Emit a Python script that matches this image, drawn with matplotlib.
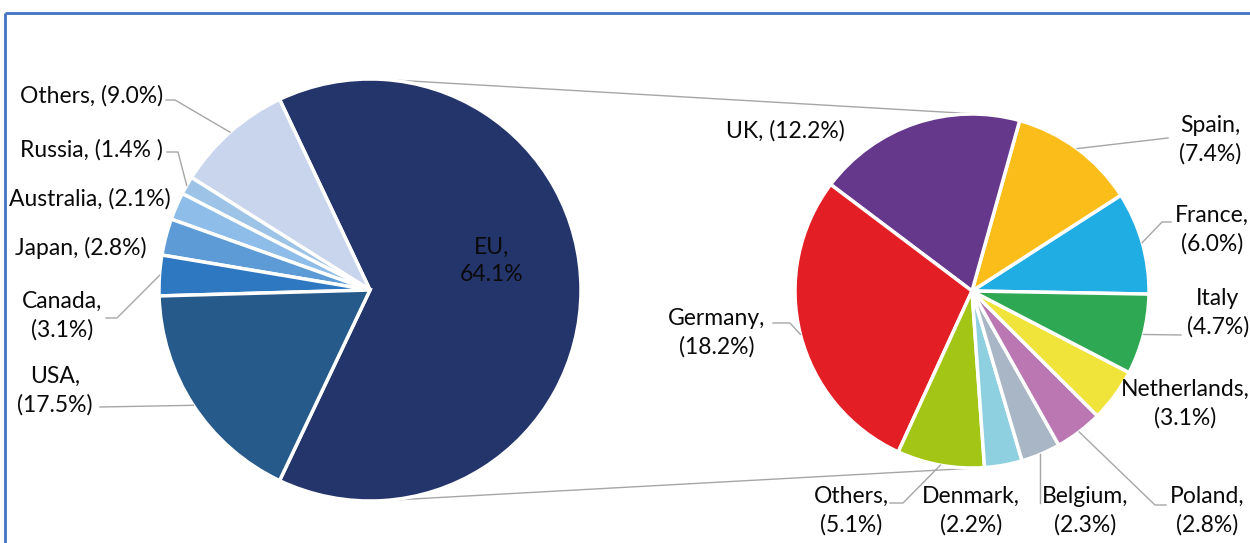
import numpy as np
import matplotlib
matplotlib.use("Agg")
import matplotlib.pyplot as plt

W, H = 1250, 543

# ---- data ----
left_labels = ['EU', 'Others', 'Russia', 'Australia', 'Japan', 'Canada', 'USA']
left_values = [64.1, 9.0, 1.4, 2.1, 2.8, 3.1, 17.5]
left_colors = ['#24356B', '#C9D5EC', '#9DC3E6', '#8DBDE8', '#5C9BD5', '#2E78C2', '#265A8A']

right_labels = ['France', 'Spain', 'UK', 'Germany', 'Others', 'Denmark',
                'Belgium', 'Poland', 'Netherlands', 'Italy']
right_values = [6.0, 7.4, 12.2, 18.2, 5.1, 2.2, 2.3, 2.8, 3.1, 4.7]
right_colors = ['#1FADE3', '#FBBD19', '#66388C', '#E31E24', '#A3C515', '#8ECFE0',
                '#A9B6C6', '#BB77B1', '#F0E43A', '#2EA852']

plt.rcParams['font.family'] = ['Lato', 'DejaVu Sans']
FS = 16.5
TC = '#0A0A0A'

fig = plt.figure(figsize=(W / 100, H / 100), dpi=100)
ax = fig.add_axes([0, 0, 1, 1])

def up(y):
    return H - y

# geometry (image pixel coords)
c1 = (370, 290); r1 = 211
c2 = (972, 291); r2 = 177

start1 = -left_values[0] * 3.6 / 2
w1, _ = ax.pie(left_values, colors=left_colors, startangle=start1, counterclock=True,
               center=(c1[0], up(c1[1])), radius=r1,
               wedgeprops=dict(edgecolor='white', linewidth=2.5))
w2, _ = ax.pie(right_values, colors=right_colors, startangle=-1.0, counterclock=True,
               center=(c2[0], up(c2[1])), radius=r2,
               wedgeprops=dict(edgecolor='white', linewidth=2.5))

# connector lines (external tangents)
d = c2[0] - c1[0]
cth = (r1 - r2) / d
th = np.arccos(cth)
for s in (1, -1):
    p1 = (c1[0] + r1 * np.cos(th), up(c1[1]) + s * r1 * np.sin(th))
    p2 = (c2[0] + r2 * np.cos(th), up(c2[1]) + s * r2 * np.sin(th))
    ax.plot([p1[0], p2[0]], [p1[1], p2[1]], color='#A6A6A6', lw=1.0, zorder=0)

def mid_point(w, center, r):
    a = np.deg2rad((w.theta1 + w.theta2) / 2)
    return (center[0] + r * np.cos(a), up(center[1]) + r * np.sin(a))

def fmt(name, v, sep):
    return f"{name},{sep}({v:.1f}%)"

LC = '#A6A6A6'

# left labels: text center (img), separator, leader points (img) or None
left_layout = {
    'Others': ((92, 96), ' ', [(166, 100), (175, 100)]),
    'Russia': ((91, 150), ' ', [(167, 152), (178, 152)]),
    'Australia': ((90, 199), ' ', None),
    'Japan': ((81, 248), ' ', None),
    'Canada': ((62, 316), '\n', [(106, 318), (117, 318)]),
    'USA': ((55, 391), '\n', [(100, 407)]),
}
for i, name in enumerate(left_labels):
    v = left_values[i]
    if name == 'EU':
        ax.text(492, up(261), f"EU,\n{v:.1f}%", ha='center', va='center', fontsize=FS,
                color=TC, linespacing=1.4)
        continue
    pos, sep, lead = left_layout[name]
    txt = fmt(name, v, sep)
    if name == 'Russia':
        txt = txt.replace('%)', '% )')
    ax.text(pos[0], up(pos[1]), txt, ha='center', va='center', fontsize=FS,
            color=TC, linespacing=1.4)
    if lead:
        ep = mid_point(w1[i], c1, r1)
        xs = [p[0] for p in lead] + [ep[0]]
        ys = [up(p[1]) for p in lead] + [ep[1]]
        ax.plot(xs, ys, color=LC, lw=1.0)

right_layout = {
    'UK': ((785, 131), ' ', None),
    'Spain': ((1210, 140), '\n', [(1168, 138)]),
    'France': ((1212, 230), '\n', [(1171, 222), (1162, 222)]),
    'Italy': ((1218, 313), '\n', [(1181, 335)]),
    'Netherlands': ((1185, 404), '\n', None),
    'Poland': ((1207, 511), '\n', [(1166, 505), (1155, 505)]),
    'Belgium': ((1085, 511), '\n', [(1040, 503)]),
    'Denmark': ((971, 511), '\n', None),
    'Others': ((851, 511), '\n', [(890, 503), (903, 503)]),
    'Germany': ((717, 333), '\n', [(773, 323), (790, 323)]),
}
for i, name in enumerate(right_labels):
    v = right_values[i]
    pos, sep, lead = right_layout[name]
    txt = fmt(name, v, sep)
    if name == 'Italy':
        txt = f"{name}\n({v:.1f}%)"
    ax.text(pos[0], up(pos[1]), txt, ha='center', va='center', fontsize=FS,
            color=TC, linespacing=1.4)
    if lead:
        ep = mid_point(w2[i], c2, r2)
        if name == 'Belgium':
            ep = (lead[0][0], ep[1])
        xs = [p[0] for p in lead] + [ep[0]]
        ys = [up(p[1]) for p in lead] + [ep[1]]
        ax.plot(xs, ys, color=LC, lw=1.0)

# frame (top and left border)
ax.plot([5, W], [up(13), up(13)], color='#4472C4', lw=2.0, solid_capstyle='butt')
ax.plot([5, 5], [up(13), 0], color='#4472C4', lw=2.0, solid_capstyle='butt')

ax.set_xlim(0, W)
ax.set_ylim(0, H)
ax.set_aspect('auto')
ax.axis('off')

fig.savefig('out.png', dpi=100)
